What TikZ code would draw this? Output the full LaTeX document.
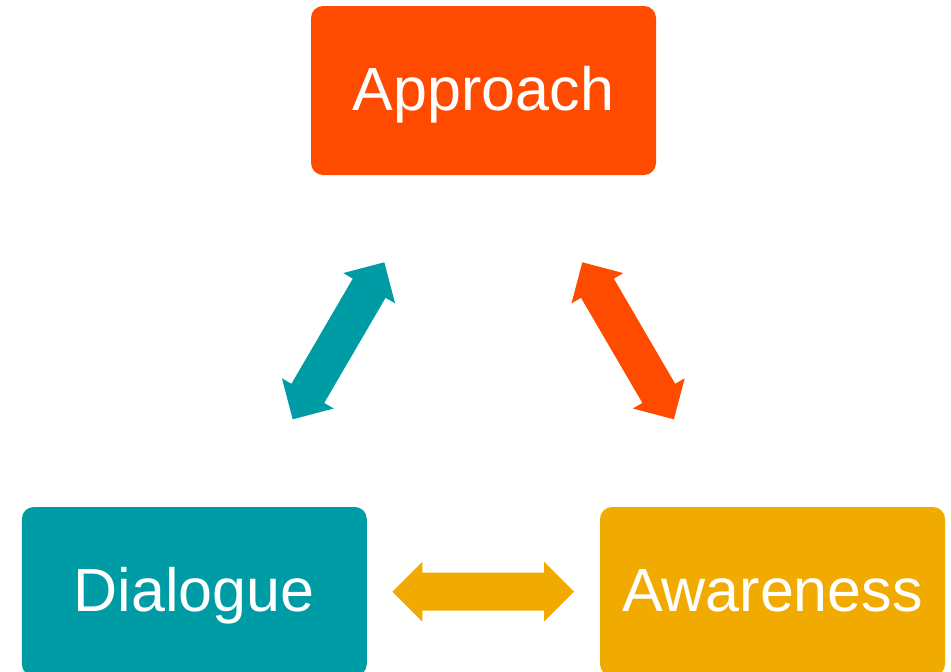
\documentclass[tikz,border=0pt]{standalone}
\usepackage{fontspec}
\setmainfont{Liberation Sans}
\usetikzlibrary{calc}
\definecolor{orangeC}{RGB}{255,75,0}
\definecolor{tealC}{RGB}{0,156,166}
\definecolor{amberC}{RGB}{241,171,0}
\tikzset{
  box/.style={rectangle, rounded corners=12pt, minimum width=345pt, minimum height=169pt,
    text=white, font=\fontsize{61}{61}\selectfont, text height=44pt, text depth=5pt, inner sep=0pt},
}
% double block arrow between two named coordinates
\newcommand\blockarrowLR[3]{%
  \fill[#3] (#1)
    -- ($(#1)!30pt!(#2)!30pt!90:(#2)$)
    -- ($(#1)!30pt!(#2)!19pt!90:(#2)$)
    -- ($(#2)!30pt!(#1)!19pt!-90:(#1)$)
    -- ($(#2)!30pt!(#1)!30pt!-90:(#1)$)
    -- (#2)
    -- ($(#2)!30pt!(#1)!30pt!90:(#1)$)
    -- ($(#2)!30pt!(#1)!19pt!90:(#1)$)
    -- ($(#1)!30pt!(#2)!19pt!-90:(#2)$)
    -- ($(#1)!30pt!(#2)!30pt!-90:(#2)$)
    -- cycle;}
\begin{document}
\begin{tikzpicture}[x=1pt,y=-1pt]
\useasboundingbox (0,0) rectangle (951,672);
\clip (0,0) rectangle (951,672);
\node[box, fill=orangeC] (approach) at (483.5,90.5) {Approach};
\node[box, fill=tealC] (dialogue) at (194.3,591.5) {Dialogue};
\node[box, fill=amberC] (awareness) at (772.5,591.5) {Awareness};
\coordinate (t1) at (292.7,419.3);
\coordinate (t2) at (384.3,262.3);
\coordinate (o1) at (582.3,262.3);
\coordinate (o2) at (673.9,419.3);
\coordinate (a1) at (392.3,591.7);
\coordinate (a2) at (574.0,591.7);
\blockarrowLR{t1}{t2}{tealC}
\blockarrowLR{o1}{o2}{orangeC}
\blockarrowLR{a1}{a2}{amberC}
\end{tikzpicture}
\end{document}
